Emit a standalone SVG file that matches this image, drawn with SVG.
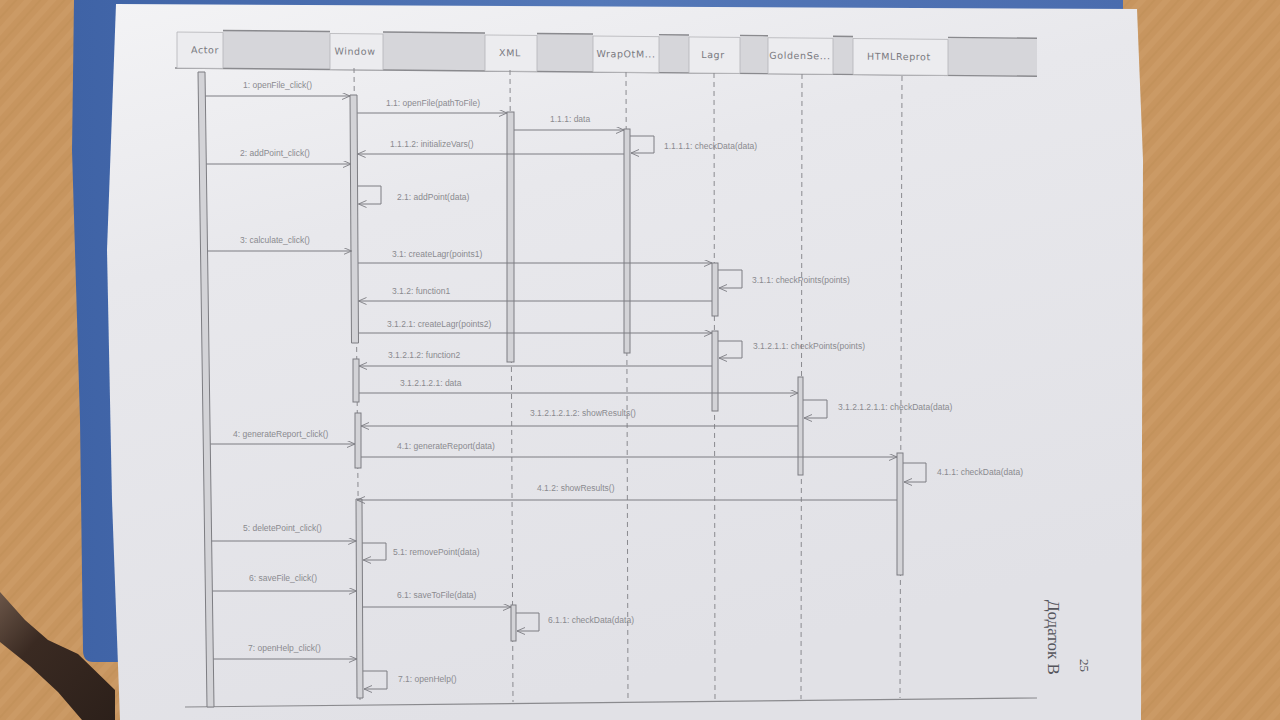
<svg xmlns="http://www.w3.org/2000/svg" width="1280" height="720" viewBox="0 0 1280 720">
<defs>
<pattern id="grain" width="18" height="18" patternUnits="userSpaceOnUse" patternTransform="rotate(-48)">
<rect width="18" height="18" fill="#c7955f"/>
<rect y="0" width="18" height="6" fill="#d0a270" opacity="0.35"/>
<rect y="11" width="18" height="2" fill="#b8864f" opacity="0.25"/>
</pattern>
<linearGradient id="paperG" x1="0" y1="0" x2="0.35" y2="1">
<stop offset="0" stop-color="#f3f3f5"/>
<stop offset="0.35" stop-color="#e8e8ec"/>
<stop offset="1" stop-color="#e1e1e6"/>
</linearGradient>
<linearGradient id="blueG" x1="0" y1="0" x2="1" y2="0">
<stop offset="0" stop-color="#3f63a6"/>
<stop offset="0.5" stop-color="#5478b8"/>
<stop offset="1" stop-color="#4a6cae"/>
</linearGradient>
<linearGradient id="strapG" x1="0" y1="0" x2="1" y2="1">
<stop offset="0" stop-color="#6b5648"/>
<stop offset="0.35" stop-color="#3a2a22"/>
<stop offset="1" stop-color="#2c201a"/>
</linearGradient>
<marker id="arr" markerWidth="10" markerHeight="8" refX="8" refY="3.5" orient="auto" markerUnits="userSpaceOnUse">
<path d="M0,0 L8,3.5 L0,7" fill="none" stroke="#7d7d82" stroke-width="0.9"/>
</marker>
<style>
.msg{fill:none;stroke:#7d7d82;stroke-width:1;marker-end:url(#arr)}
.lbl{font-family:"Liberation Sans",Arial,sans-serif;font-size:8.5px;fill:#8a8a8f}
.hdr{font-family:"DejaVu Sans","Liberation Sans",sans-serif;font-size:9.5px;letter-spacing:0.6px;fill:#7a7a7f;text-anchor:middle}
.hbox{fill:#ececef;stroke:#b4b4b8;stroke-width:0.8}
.hgray{fill:#d6d6da;stroke:none}
.hline{stroke:#8a8a8e;stroke-width:1.4}
.life{stroke:#8a8a8f;stroke-width:1;stroke-dasharray:5,4;fill:none}
.bar{fill:#d3d3d7;stroke:#7d7d82;stroke-width:1}
</style>
</defs>

<!-- background -->
<rect width="1280" height="720" fill="url(#grain)"/>
<path d="M74,0 L1123,0 L1123,30 L140,30 L140,662 L93,662 Q83,662 83,650 L80,420 L72,150 Z" fill="url(#blueG)"/>
<path d="M0,592 L25,620 L48,640 L78,654 L115,690 L115,720 L82,720 L58,692 L30,666 L0,642 Z" fill="url(#strapG)"/>
<polygon points="116,4 1137,9 1143,160 1141,720 120,720 112,500 107,250" fill="url(#paperG)"/>

<!-- header frame gray fillers -->
<g id="header-frame" transform="translate(175,30) skewY(0.55)">
<rect class="hgray" x="48" y="0" width="107" height="38"/>
<rect class="hgray" x="208" y="0" width="102" height="38"/>
<rect class="hgray" x="362" y="0" width="56" height="38"/>
<rect class="hgray" x="484" y="0" width="30" height="38"/>
<rect class="hgray" x="565" y="0" width="28" height="38"/>
<rect class="hgray" x="658" y="0" width="20" height="38"/>
<rect class="hgray" x="773" y="0" width="89" height="38"/>
<line class="hline" x1="48" y1="0" x2="155" y2="0"/>
<line class="hline" x1="208" y1="0" x2="310" y2="0"/>
<line class="hline" x1="362" y1="0" x2="418" y2="0"/>
<line class="hline" x1="484" y1="0" x2="514" y2="0"/>
<line class="hline" x1="565" y1="0" x2="593" y2="0"/>
<line class="hline" x1="658" y1="0" x2="678" y2="0"/>
<line class="hline" x1="773" y1="0" x2="862" y2="0"/>
<line class="hline" x1="0" y1="38" x2="862" y2="38"/>
</g>

<!-- bottom frame line -->
<line x1="185" y1="707" x2="1037" y2="698" stroke="#8a8a8e" stroke-width="1.2"/>

<g id="actor">
<g transform="translate(175,30) skewY(0.55)"><rect class="hbox" x="2" y="2" width="46" height="36"/><text class="hdr" x="30" y="23">Actor</text></g>
<polygon class="bar" points="198,72 205,72 214,707 207,707"/>
</g>

<g id="window">
<g transform="translate(175,30) skewY(0.55)"><rect class="hbox" x="155" y="2" width="53" height="36"/><text class="hdr" x="180" y="23">Window</text></g>
<path class="life" d="M354,68 L360,700"/>
<polygon class="bar" points="350,95 357,95 358.5,343 351.5,343"/>
<rect class="bar" x="353" y="359" width="6" height="43"/>
<rect class="bar" x="355" y="413" width="6" height="55"/>
<polygon class="bar" points="356,499 362,499 363,698 357,698"/>
</g>

<g id="xml">
<g transform="translate(175,30) skewY(0.55)"><rect class="hbox" x="310" y="2" width="52" height="36"/><text class="hdr" x="335" y="23">XML</text></g>
<path class="life" d="M510,70 L513,702"/>
<rect class="bar" x="507" y="112" width="7" height="250"/>
<rect class="bar" x="511" y="605" width="5" height="36"/>
</g>

<g id="wrapotm">
<g transform="translate(175,30) skewY(0.55)"><rect class="hbox" x="418" y="2" width="66" height="36"/><text class="hdr" x="451" y="23">WrapOtM...</text></g>
<path class="life" d="M626,72 L628,701"/>
<rect class="bar" x="624" y="129" width="6" height="224"/>
</g>

<g id="lagr">
<g transform="translate(175,30) skewY(0.55)"><rect class="hbox" x="514" y="2" width="51" height="36"/><text class="hdr" x="538" y="23">Lagr</text></g>
<path class="life" d="M714,73 L715,700"/>
<rect class="bar" x="712" y="263" width="6" height="53"/>
<rect class="bar" x="712" y="331" width="6" height="80"/>
</g>

<g id="goldense">
<g transform="translate(175,30) skewY(0.55)"><rect class="hbox" x="593" y="2" width="65" height="36"/><text class="hdr" x="625" y="23">GoldenSe...</text></g>
<path class="life" d="M802,74 L801,699"/>
<rect class="bar" x="798" y="377" width="5" height="98"/>
</g>

<g id="htmlreprot">
<g transform="translate(175,30) skewY(0.55)"><rect class="hbox" x="678" y="2" width="95" height="36"/><text class="hdr" x="724" y="23">HTMLReprot</text></g>
<path class="life" d="M902,76 L900,698"/>
<rect class="bar" x="897" y="453" width="6" height="122"/>
</g>

<g id="connectors">
<path class="msg" d="M205.3,96 H350"/>
<path class="msg" d="M357.2,113 H507"/>
<path class="msg" d="M514,130 H624"/>
<path class="msg" d="M630,136 H654 V153 H631"/>
<path class="msg" d="M624,154 H357.6"/>
<path class="msg" d="M206.3,164 H351"/>
<path class="msg" d="M357.8,186 H381 V204 H358.5"/>
<path class="msg" d="M207.5,251 H351.5"/>
<path class="msg" d="M358,263 H712"/>
<path class="msg" d="M718,270 H742 V288 H719"/>
<path class="msg" d="M712,301 H358.5"/>
<path class="msg" d="M358.5,333 H712"/>
<path class="msg" d="M718,341 H742 V358 H719"/>
<path class="msg" d="M712,366 H359"/>
<path class="msg" d="M359,393 H798"/>
<path class="msg" d="M803,400 H827 V418 H804"/>
<path class="msg" d="M798,426 H361"/>
<path class="msg" d="M210.3,444 H355"/>
<path class="msg" d="M361,457 H897"/>
<path class="msg" d="M903,463 H926 V482 H904"/>
<path class="msg" d="M897,500 H357"/>
<path class="msg" d="M211.6,541 H356.2"/>
<path class="msg" d="M362.2,543 H386 V560 H363.2"/>
<path class="msg" d="M212.4,591 H356.5"/>
<path class="msg" d="M362.5,607 H511"/>
<path class="msg" d="M516,613 H539 V631 H517"/>
<path class="msg" d="M213.3,659 H356.8"/>
<path class="msg" d="M362.8,671 H387 V689 H364"/>
</g>

<g id="labels">
<text class="lbl" x="243" y="88">1: openFile_click()</text>
<text class="lbl" x="386" y="106">1.1: openFile(pathToFile)</text>
<text class="lbl" x="550" y="122">1.1.1: data</text>
<text class="lbl" x="664" y="149">1.1.1.1: checkData(data)</text>
<text class="lbl" x="390" y="147">1.1.1.2: initializeVars()</text>
<text class="lbl" x="240" y="156">2: addPoint_click()</text>
<text class="lbl" x="397" y="200">2.1: addPoint(data)</text>
<text class="lbl" x="240" y="243">3: calculate_click()</text>
<text class="lbl" x="392" y="257">3.1: createLagr(points1)</text>
<text class="lbl" x="752" y="283">3.1.1: checkPoints(points)</text>
<text class="lbl" x="392" y="294">3.1.2: function1</text>
<text class="lbl" x="387" y="327">3.1.2.1: createLagr(points2)</text>
<text class="lbl" x="753" y="349">3.1.2.1.1: checkPoints(points)</text>
<text class="lbl" x="388" y="358">3.1.2.1.2: function2</text>
<text class="lbl" x="400" y="386">3.1.2.1.2.1: data</text>
<text class="lbl" x="838" y="410">3.1.2.1.2.1.1: checkData(data)</text>
<text class="lbl" x="530" y="416">3.1.2.1.2.1.2: showResults()</text>
<text class="lbl" x="233" y="437">4: generateReport_click()</text>
<text class="lbl" x="397" y="449">4.1: generateReport(data)</text>
<text class="lbl" x="937" y="475">4.1.1: checkData(data)</text>
<text class="lbl" x="537" y="491">4.1.2: showResults()</text>
<text class="lbl" x="243" y="531">5: deletePoint_click()</text>
<text class="lbl" x="393" y="555">5.1: removePoint(data)</text>
<text class="lbl" x="249" y="581">6: saveFile_click()</text>
<text class="lbl" x="397" y="598">6.1: saveToFile(data)</text>
<text class="lbl" x="548" y="623">6.1.1: checkData(data)</text>
<text class="lbl" x="248" y="651">7: openHelp_click()</text>
<text class="lbl" x="398" y="682">7.1: openHelp()</text>
</g>

<g id="page-text">
<text transform="translate(1048,600) rotate(90)" font-family="'Liberation Serif',serif" font-size="17" fill="#55555c">Додаток В</text>
<text transform="translate(1080,659) rotate(90)" font-family="'Liberation Serif',serif" font-size="13" fill="#55555c">25</text>
</g>
</svg>
